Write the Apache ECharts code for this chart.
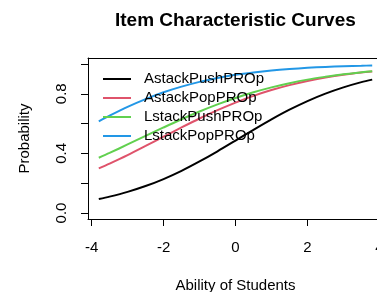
<!DOCTYPE html>
<html>
<head>
<meta charset="utf-8">
<script src="https://cdn.jsdelivr.net/npm/echarts@6/dist/echarts.min.js"></script>
<style>
  html, body { margin: 0; padding: 0; background: #fff; }
  #chart { width: 377px; height: 292px; }
</style>
</head>
<body>
<div id="chart"></div>
<script>
const theta = [-3.8, -3.5, -3, -2.5, -2, -1.5, -1, -0.5, 0, 0.5, 1, 1.5, 2, 2.5, 3, 3.5, 3.8];

const itemNames = ["AstackPushPROp", "AstackPopPROp", "LstackPushPROp", "LstackPopPROp"];
const itemColors = ["#000000", "#DF536B", "#61D04F", "#2297E6"];

// probabilities
const astackPush = [0.094, 0.110, 0.142, 0.181, 0.228, 0.283, 0.346, 0.414, 0.486, 0.558, 0.628, 0.693, 0.751, 0.801, 0.843, 0.878, 0.895];
const astackPop  = [0.300, 0.332, 0.389, 0.450, 0.512, 0.574, 0.634, 0.690, 0.741, 0.786, 0.825, 0.858, 0.886, 0.909, 0.928, 0.943, 0.950];
const lstackPush = [0.371, 0.403, 0.460, 0.517, 0.574, 0.629, 0.681, 0.729, 0.772, 0.810, 0.843, 0.871, 0.895, 0.914, 0.931, 0.944, 0.951];
const lstackPop  = [0.615, 0.653, 0.712, 0.764, 0.810, 0.848, 0.880, 0.906, 0.927, 0.943, 0.956, 0.966, 0.974, 0.980, 0.985, 0.988, 0.990];

const xTicks = [-4, -2, 0, 2, 4];
const yTicks = [0, 0.2, 0.4, 0.6, 0.8, 1.0];
const yLabels = [0, 0.4, 0.8];

const allValues = [astackPush, astackPop, lstackPush, lstackPop];

const font = "Liberation Sans, Arial, sans-serif";

const series = itemNames.map(function (name, i) {
  return {
    name: name,
    type: "line",
    data: theta.map(function (t, j) { return [t, allValues[i][j]]; }),
    showSymbol: false,
    symbol: "none",
    smooth: 0.3,
    lineStyle: { color: itemColors[i], width: 2 },
    itemStyle: { color: itemColors[i] },
    animation: false
  };
});

// the box around the plot is made from axis lines (bottom, left, top)
const boxLine = { show: true, onZero: false, lineStyle: { color: "#000", width: 1 } };

const option = {
  animation: false,
  backgroundColor: "#fff",
  title: {
    text: "Item Characteristic Curves",
    left: 115,
    top: 11,
    padding: 0,
    textStyle: { fontFamily: font, fontSize: 19, fontWeight: "bold", color: "#000" }
  },
  legend: {
    orient: "vertical",
    left: 103,
    top: 71.5,
    padding: 0,
    icon: "rect",
    itemWidth: 28,
    itemHeight: 2,
    itemGap: 4,
    data: itemNames,
    textStyle: { fontFamily: font, fontSize: 15, color: "#000", padding: [0, 0, 0, 8] }
  },
  grid: {
    left: 88,
    top: 58,
    width: 295,
    height: 161,
    containLabel: false,
    outerBoundsMode: "none"
  },
  xAxis: [
    {
      type: "value",
      min: -4.1,
      max: 4.1,
      position: "bottom",
      name: "Ability of Students",
      nameLocation: "middle",
      nameGap: 59,
      nameTextStyle: { fontFamily: font, fontSize: 15, color: "#000" },
      axisLine: boxLine,
      axisTick: { show: true, length: 7, customValues: xTicks, lineStyle: { color: "#000" } },
      axisLabel: { customValues: xTicks, margin: 21, fontFamily: font, fontSize: 15, color: "#000" },
      splitLine: { show: false }
    },
    {
      type: "value",
      min: -4.1,
      max: 4.1,
      position: "top",
      axisLine: boxLine,
      axisTick: { show: false },
      axisLabel: { show: false },
      splitLine: { show: false }
    }
  ],
  yAxis: {
    type: "value",
    min: -0.04,
    max: 1.04,
    position: "left",
    name: "Probability",
    nameLocation: "middle",
    nameRotate: 90,
    nameGap: 56,
    nameTextStyle: { fontFamily: font, fontSize: 15, color: "#000" },
    axisLine: boxLine,
    axisTick: { show: true, length: 7, customValues: yTicks, lineStyle: { color: "#000" } },
    axisLabel: {
      customValues: yLabels,
      rotate: 90,
      margin: 19,
      fontFamily: font,
      fontSize: 15,
      color: "#000",
      formatter: function (v) { return v.toFixed(1); }
    },
    splitLine: { show: false }
  },
  series: series
};

const myChart = echarts.init(document.getElementById("chart"), null, { renderer: "canvas" });
myChart.setOption(option);
</script>
</body>
</html>
